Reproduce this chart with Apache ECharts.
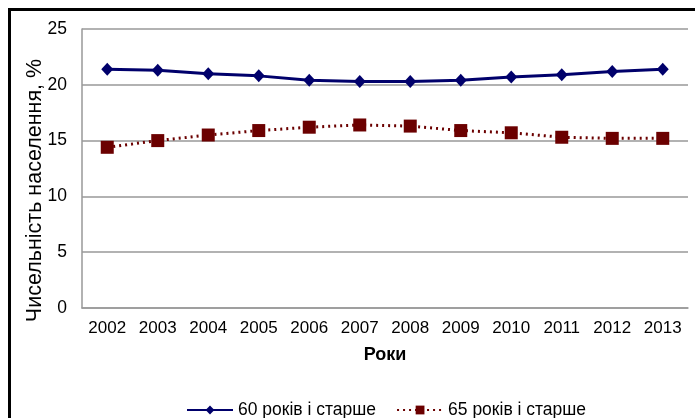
<!DOCTYPE html>
<html>
<head>
<meta charset="utf-8">
<script src="https://cdn.jsdelivr.net/npm/echarts@6/dist/echarts.min.js"></script>
<style>html,body{margin:0;padding:0;background:#fff}#c{width:695px;height:418px}</style>
</head>
<body>
<div id="c"></div>
<script>
var years = ['2002','2003','2004','2005','2006','2007','2008','2009','2010','2011','2012','2013'];
var age60 = [21.4, 21.3, 21.0, 20.8, 20.4, 20.3, 20.3, 20.4, 20.7, 20.9, 21.2, 21.4];
var age65 = [14.4, 15.0, 15.5, 15.9, 16.2, 16.4, 16.3, 15.9, 15.7, 15.3, 15.2, 15.2];
var yTicks = [0, 5, 10, 15, 20, 25];
var seriesNames = ['60 років і старше', '65 років і старше'];

var chart = echarts.init(document.getElementById('c'));
var font = 'Liberation Sans, Arial, sans-serif';
chart.setOption({
  animation: false,
  backgroundColor: '#fff',
  textStyle: {fontFamily: font},
  graphic: [{
    type: 'rect', shape: {x: 9.5, y: 9.5, width: 720, height: 440},
    style: {fill: 'none', stroke: '#000', lineWidth: 3}, silent: true
  }],
  grid: {left: 82, right: 7, top: 29, bottom: 110},
  legend: {
    bottom: -1, left: 186, padding: 0,
    itemWidth: 46, itemHeight: 11, itemGap: 20,
    textStyle: {fontSize: 17.5, color: '#000', fontFamily: font},
    data: seriesNames
  },
  xAxis: {
    type: 'category', data: years, boundaryGap: true,
    name: 'Роки', nameLocation: 'middle', nameGap: 38,
    nameTextStyle: {fontSize: 18, fontWeight: 'bold', color: '#000', fontFamily: font},
    axisLine: {lineStyle: {color: '#999', width: 1.5}},
    axisTick: {show: false},
    axisLabel: {fontSize: 17, color: '#000', margin: 12, fontFamily: font}
  },
  yAxis: {
    type: 'value', min: yTicks[0], max: yTicks[yTicks.length - 1], interval: 5,
    name: 'Чисельність населення, %', nameLocation: 'middle', nameGap: 36,
    nameMoveOverlap: false,
    nameTextStyle: {fontSize: 21.5, color: '#000', fontFamily: font, padding: [0, 44, 0, 0]},
    axisLine: {show: true, lineStyle: {color: '#999', width: 1.5}},
    axisTick: {show: false},
    axisLabel: {fontSize: 17.5, color: '#000', margin: 15, fontFamily: font},
    splitLine: {lineStyle: {color: '#999', width: 1.5}}
  },
  series: [{
    name: seriesNames[0], type: 'line', data: age60,
    symbol: 'diamond', symbolSize: [12, 13],
    lineStyle: {color: '#00006b', width: 3},
    itemStyle: {color: '#00006b'}
  }, {
    name: seriesNames[1], type: 'line', data: age65,
    symbol: 'rect', symbolSize: 13,
    lineStyle: {color: '#6b0000', width: 3, type: [2, 4]},
    itemStyle: {color: '#6b0000'}
  }]
});
</script>
</body>
</html>
